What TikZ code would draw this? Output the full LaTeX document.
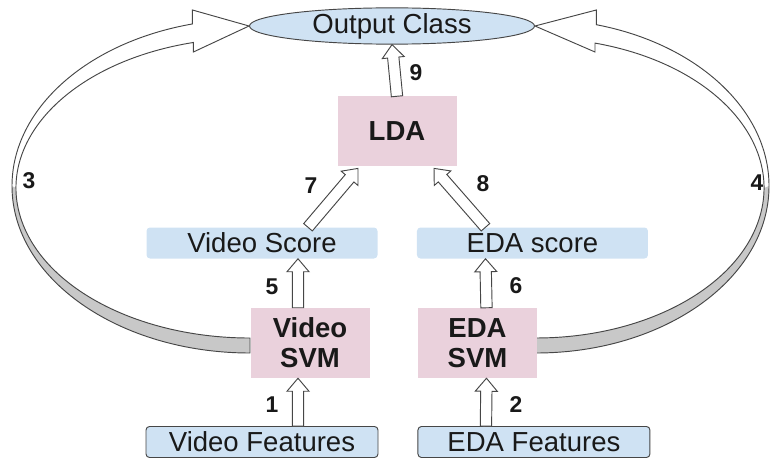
\documentclass[tikz,border=0pt]{standalone}
\usepackage{fontspec}
\setmainfont{Liberation Sans}
\usetikzlibrary{positioning,calc,shapes.geometric,backgrounds}

\definecolor{boxblue}{RGB}{207,226,243}
\definecolor{boxpink}{RGB}{234,209,220}
\definecolor{edgegray}{RGB}{70,70,70}
\definecolor{bandgray}{RGB}{200,200,200}
\definecolor{ink}{RGB}{25,25,25}

% sizes of the hollow block arrows
\newcommand{\arrshaft}{0.17cm}
\newcommand{\arrhead}{0.33cm}
\newcommand{\arrlen}{0.39cm}

\tikzset{
	score/.style = {fill=boxblue, rounded corners=3pt, inner sep=0pt,
		minimum width=6.93cm, minimum height=0.93cm, text=ink,
		font=\fontsize{23.5}{26}\selectfont},
	feat/.style = {score, draw=edgegray, line width=0.8pt, minimum width=6.96cm},
	model/.style = {fill=boxpink, minimum width=3.57cm, minimum height=2.1cm,
		align=center, text=ink, font=\bfseries\fontsize{23.5}{25.5}\selectfont},
	num/.style = {text=ink, font=\bfseries\fontsize{19.5}{20}\selectfont},
	band/.style = {draw=edgegray, line width=0.8pt, line join=miter},
	hollow/.style = {draw=edgegray, fill=white, line width=0.8pt, to path={
		($(\tikztostart)!\arrshaft!90:(\tikztotarget)$)
		-- ($(\tikztotarget)!\arrlen!(\tikztostart)!\arrshaft!90:(\tikztotarget)$)
		-- ($(\tikztotarget)!\arrlen!(\tikztostart)!\arrhead!90:(\tikztotarget)$)
		-- (\tikztotarget)
		-- ($(\tikztotarget)!\arrlen!(\tikztostart)!\arrhead!-90:(\tikztotarget)$)
		-- ($(\tikztotarget)!\arrlen!(\tikztostart)!\arrshaft!-90:(\tikztotarget)$)
		-- ($(\tikztostart)!\arrshaft!-90:(\tikztotarget)$) -- cycle}}
}

\begin{document}
\begin{tikzpicture}
	\useasboundingbox (0,0) rectangle (23.13,-13.86);

	\node[feat] (vfeat) at (7.86,-13.26) {Video Features};
	\node[feat] (efeat) [right=1.17cm of vfeat] {EDA Features};
	\node[model] (vsvm) at (9.30,-10.29) {Video\\SVM};
	\node[model] (esvm) [right=1.44cm of vsvm] {EDA\\SVM};
	\node[score] (vscore) at (7.86,-7.29) {Video Score};
	\node[score] (escore) [right=1.17cm of vscore] {EDA score};
	\node[model, minimum height=2.07cm] (lda) at (11.91,-3.93) {LDA};
	\node[ellipse, draw=edgegray, line width=0.8pt, fill=boxblue, inner sep=0pt,
		minimum width=8.55cm, minimum height=1.05cm, text=ink,
		font=\fontsize{23.5}{26}\selectfont] (out) at (11.76,-0.78) {Output Class};

	% step arrows
	\draw[hollow] ([xshift=1.08cm]vfeat.north) to ([xshift=-0.36cm]vsvm.south);
	\draw[hollow] ([xshift=-1.44cm]efeat.north) to ([xshift=0.27cm]esvm.south);
	\draw[hollow] ([xshift=-0.36cm]vsvm.north) to ([xshift=1.08cm]vscore.south);
	\draw[hollow] ([xshift=0.27cm]esvm.north) to ([xshift=-1.41cm]escore.south);
	\draw[hollow] ([xshift=1.38cm]vscore.north) to ([xshift=-1.17cm,yshift=-0.08cm]lda.south);
	\draw[hollow] ([xshift=-1.41cm]escore.north) to ([xshift=1.11cm,yshift=-0.08cm]lda.south);
	\draw[hollow] (lda.north) to (out.south);

	% the two long return arrows
	\begin{scope}[on background layer]
		\fill[bandgray] (0.36,-5.58) arc[start angle=180, end angle=270, x radius=7.14, y radius=5.01]
			-- (7.5,-10.14) arc[start angle=270, end angle=180, x radius=7.02, y radius=4.5] -- cycle;
		\draw[band] (7.5,-10.59) arc[start angle=270, end angle=104, x radius=7.14, y radius=5.01]
			-- (5.773,-0.3) -- (out.west) -- (5.802,-1.56) -- (5.802,-1.274)
			arc[start angle=104, end angle=270, x radius=7.02, y radius=4.5] -- cycle;
		\fill[bandgray] (16.08,-10.59) arc[start angle=-90, end angle=0, x radius=6.99, y radius=5.01]
			-- (22.92,-5.64) arc[start angle=0, end angle=-90, x radius=6.84, y radius=4.5] -- cycle;
		\draw[band] (16.08,-10.59) arc[start angle=-90, end angle=75, x radius=6.99, y radius=5.01]
			-- (17.889,-0.3) -- (out.east) -- (17.85,-1.56) -- (17.85,-1.293)
			arc[start angle=75, end angle=-90, x radius=6.84, y radius=4.5] -- cycle;
	\end{scope}

	\node[num] (n1) at (8.16,-12.15) {1};
	\node[num] (n2) at (15.48,-12.15) {2};
	\node[num] (n3) at (0.87,-5.43) {3};
	\node[num] (n4) at (22.71,-5.49) {4};
	\node[num] (n5) at (8.16,-8.61) {5};
	\node[num] (n6) at (15.48,-8.58) {6};
	\node[num] (n7) at (9.33,-5.58) {7};
	\node[num] (n8) at (14.49,-5.52) {8};
	\node[num] (n9) at (12.48,-2.19) {9};
\end{tikzpicture}
\end{document}
